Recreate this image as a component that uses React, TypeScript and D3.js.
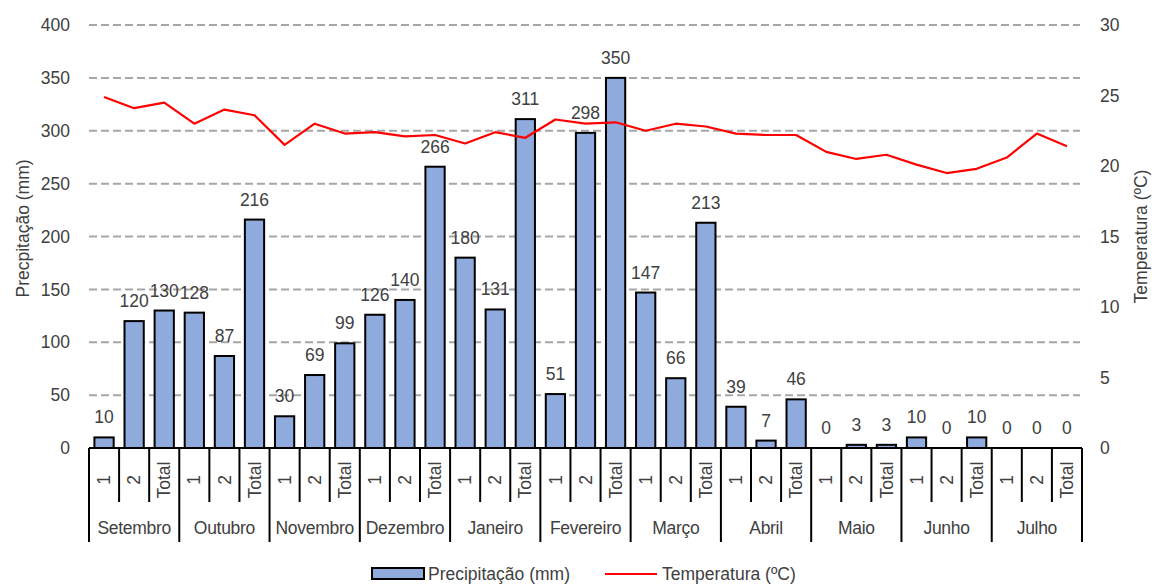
import { useMemo } from 'react'
import * as d3 from 'd3'

const months = ['Setembro', 'Outubro', 'Novembro', 'Dezembro', 'Janeiro', 'Fevereiro', 'Março', 'Abril', 'Maio', 'Junho', 'Julho']
const subLabels = ['1', '2', 'Total']

// precipitation (mm), per month: 1st half, 2nd half, total
const precip = [
  10, 120, 130,
  128, 87, 216,
  30, 69, 99,
  126, 140, 266,
  180, 131, 311,
  51, 298, 350,
  147, 66, 213,
  39, 7, 46,
  0, 3, 3,
  10, 0, 10,
  0, 0, 0,
]

// temperature (ºC), same order
const temp = [
  24.9, 24.1, 24.5,
  23.0, 24.0, 23.6,
  21.5, 23.0, 22.3,
  22.4, 22.1, 22.2,
  21.6, 22.4, 22.0,
  23.3, 23.0, 23.1,
  22.5, 23.0, 22.8,
  22.3, 22.2, 22.2,
  21.0, 20.5, 20.8,
  20.1, 19.5, 19.8,
  20.6, 22.3, 21.4,
]

const leftTicks = [0, 50, 100, 150, 200, 250, 300, 350, 400]
const rightTicks = [0, 5, 10, 15, 20, 25, 30]

const W = 1152
const H = 585
const PLOT = { left: 89, right: 1082, top: 25, bottom: 448 }
const FONT = '"Liberation Sans", Arial, sans-serif'
const TXT = '#404040'
const BAR = '#8FAADC'

export default function App() {
  const keys = useMemo(() => precip.map((_, i) => `${i}`), [])

  const x = d3.scaleBand<string>()
    .domain(keys)
    .range([PLOT.left, PLOT.right])
    .paddingInner(0.36)
    .paddingOuter(0.18)

  const step = (PLOT.right - PLOT.left) / keys.length
  const cx = (i: number) => PLOT.left + step * (i + 0.5)

  const y = d3.scaleLinear().domain([0, 400]).range([PLOT.bottom, PLOT.top])
  const yT = d3.scaleLinear().domain([0, 30]).range([PLOT.bottom, PLOT.top])

  const line = d3.line<number>()
    .x((_d, i) => cx(i))
    .y(d => yT(d))

  return (
    <svg width={W} height={H} style={{ position: 'absolute', left: 0, top: 0, background: '#fff' }}
      fontFamily={FONT}>
      {/* gridlines */}
      {leftTicks.filter(t => t > 0).map(t => (
        <line key={t} x1={PLOT.left} x2={PLOT.right - 2} y1={y(t)} y2={y(t)}
          stroke="#A6A6A6" strokeWidth={2} strokeDasharray="8,4" />
      ))}

      {/* left ticks */}
      {leftTicks.map(t => (
        <text key={t} x={70} y={y(t)} dy="0.35em" textAnchor="end" fontSize={17.5} fill={TXT}>{t}</text>
      ))}
      {/* right ticks */}
      {rightTicks.map(t => (
        <text key={t} x={1100} y={yT(t)} dy="0.35em" textAnchor="start" fontSize={17.5} fill={TXT}>{t}</text>
      ))}

      <text transform={`translate(23,${(PLOT.top + PLOT.bottom) / 2 - 8}) rotate(-90)`} textAnchor="middle"
        dy="0.35em" fontSize={17.5} fill={TXT}>Precpitação (mm)</text>
      <text transform={`translate(1141,${(PLOT.top + PLOT.bottom) / 2}) rotate(-90)`} textAnchor="middle"
        dy="0.35em" fontSize={17.5} fill={TXT}>Temperatura (ºC)</text>

      {/* bars */}
      {precip.map((v, i) => (
        <rect key={i} x={x(keys[i])!} y={y(v)} width={x.bandwidth()} height={PLOT.bottom - y(v)}
          fill={BAR} stroke="#000" strokeWidth={2} />
      ))}
      {precip.map((v, i) => (
        <text key={i} x={cx(i)} y={y(v) - 14} textAnchor="middle" fontSize={17.5} fill={TXT}>{v}</text>
      ))}

      {/* temperature */}
      <path d={line(temp)!} fill="none" stroke="#FF0000" strokeWidth={2.2} strokeLinejoin="round" />

      {/* category axis */}
      <line x1={PLOT.left} x2={PLOT.right} y1={PLOT.bottom} y2={PLOT.bottom} stroke="#000" strokeWidth={2} />
      {d3.range(keys.length + 1).map(i => {
        const monthEdge = i % 3 === 0
        const xx = PLOT.left + step * i
        return (
          <line key={i} x1={xx} x2={xx} y1={PLOT.bottom} y2={monthEdge ? 542 : 502}
            stroke="#000" strokeWidth={2} />
        )
      })}
      {keys.map((k, i) => (
        <text key={k} transform={`translate(${cx(i)},480) rotate(-90)`} textAnchor="middle" dy="0.35em"
          fontSize={17.5} fill={TXT}>{subLabels[i % 3]}</text>
      ))}
      {months.map((m, j) => (
        <text key={m} x={PLOT.left + step * (j * 3 + 1.5)} y={528} dy="0.35em" textAnchor="middle"
          fontSize={17.5} fill={TXT} letterSpacing={-0.3}>{m}</text>
      ))}

      {/* legend */}
      <rect x={372} y={568} width={52} height={11} fill={BAR} stroke="#000" strokeWidth={2} />
      <text x={428} y={574} dy="0.35em" fontSize={17.5} fill={TXT}>Precipitação (mm)</text>
      <line x1={605} x2={657} y1={574} y2={574} stroke="#FF0000" strokeWidth={2} />
      <text x={662} y={574} dy="0.35em" fontSize={17.5} fill={TXT}>Temperatura (ºC)</text>
    </svg>
  )
}
